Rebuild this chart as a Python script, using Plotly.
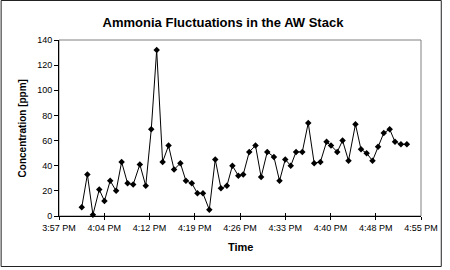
import plotly.graph_objects as go

# Sample times (clock, PM) and ammonia concentrations
times = ["16:00:39", "16:01:33", "16:02:26", "16:03:27", "16:04:17", "16:05:12", "16:06:09",
         "16:07:02", "16:07:59", "16:08:53", "16:09:57", "16:10:54", "16:11:47", "16:12:39",
         "16:13:36", "16:14:33", "16:15:26", "16:16:27", "16:17:20", "16:18:17", "16:19:11",
         "16:20:04", "16:21:05", "16:22:02", "16:22:57", "16:23:54", "16:24:47", "16:25:44",
         "16:26:31", "16:27:29", "16:28:29", "16:29:23", "16:30:22", "16:31:26", "16:32:20",
         "16:33:15", "16:34:08", "16:34:59", "16:35:59", "16:36:56", "16:37:53", "16:38:53",
         "16:39:52", "16:40:35", "16:41:35", "16:42:26", "16:43:23", "16:44:30", "16:45:23",
         "16:46:17", "16:47:14", "16:48:07", "16:49:02", "16:49:59", "16:50:50", "16:51:47",
         "16:52:44"]
ammonia = [7, 33, 1, 21, 12, 28, 20, 43, 26, 25, 41, 24, 69, 132, 43, 56, 37, 42, 28, 26, 18,
           18, 5, 45, 22, 24, 40, 32, 33, 51, 56, 31, 51, 47, 28, 45, 40, 51, 51, 74, 42, 43,
           59, 56, 51, 60, 44, 73, 53, 50, 44, 55, 66, 69, 59, 57, 57]

tick_times = ["15:57:00", "16:04:15", "16:11:30", "16:18:45", "16:26:00",
              "16:33:15", "16:40:30", "16:47:45", "16:55:00"]
tick_labels = ["3:57 PM", "4:04 PM", "4:12 PM", "4:19 PM", "4:26 PM",
               "4:33 PM", "4:40 PM", "4:48 PM", "4:55 PM"]

day = "2024-01-01 "
x = [day + t for t in times]
tickvals = [day + t for t in tick_times]
xrange_ = [tickvals[0], tickvals[-1]]

FONT = "Liberation Sans, Arial, sans-serif"

fig = go.Figure()
fig.add_trace(go.Scatter(
    x=x, y=ammonia, mode="lines+markers",
    line=dict(color="black", width=1),
    marker=dict(symbol="diamond", size=5, color="black"),
    showlegend=False, cliponaxis=False,
))

# plot area pixel box: left 59, right 425, top 40, bottom 216
L, R, T, B = 59, 425, 40, 216
W, H = 450, 270
def px(v):
    return (v - L) / (R - L)
def py(v):
    return (B - v) / (B - T)

fig.update_layout(
    width=W, height=H,
    margin=dict(l=L, r=W - R, t=T, b=H - B),
    paper_bgcolor="white", plot_bgcolor="white",
    font=dict(family=FONT, color="black", size=9),
    title=dict(text="<b>Ammonia Fluctuations in the AW Stack</b>",
               x=223 / W, xanchor="center", y=1 - 22 / H, yanchor="middle",
               font=dict(size=13, family=FONT, color="black")),
    xaxis=dict(type="date", range=xrange_, tickmode="array", tickvals=tickvals,
               ticktext=tick_labels, showgrid=False, zeroline=False,
               showline=True, linecolor="black", linewidth=1,
               ticks="outside", ticklen=3, tickcolor="black",
               tickfont=dict(size=9, family=FONT)),
    xaxis2=dict(type="date", range=xrange_, tickmode="array", tickvals=tickvals,
                overlaying="x", anchor="y", side="bottom", showticklabels=False,
                showgrid=False, zeroline=False, showline=False,
                ticks="inside", ticklen=3, tickcolor="black"),
    yaxis=dict(range=[0, 140], dtick=20, showgrid=False, zeroline=False,
               showline=True, linecolor="black", linewidth=1,
               ticks="outside", ticklen=4, tickcolor="black",
               tickfont=dict(size=9, family=FONT)),
    shapes=[
        dict(type="rect", xref="paper", yref="paper", x0=0, x1=1, y0=0, y1=1,
             line=dict(color="#808080", width=1), layer="below"),
        dict(type="rect", xref="paper", yref="paper",
             x0=px(0.5), x1=px(445.5), y0=py(266.5), y1=py(0.5),
             line=dict(color="#222222", width=1)),
    ],
    annotations=[
        dict(text="<b>Concentration [ppm]</b>", xref="paper", yref="paper",
             x=px(22), y=0.5, xanchor="center", yanchor="middle",
             textangle=-90, showarrow=False,
             font=dict(size=10, family=FONT)),
        dict(text="<b>Time</b>", xref="paper", yref="paper",
             x=0.5, y=py(247), xanchor="center", yanchor="middle", showarrow=False,
             font=dict(size=11, family=FONT)),
    ],
)

# dummy trace to make xaxis2 render
fig.add_trace(go.Scatter(x=[xrange_[0]], y=[None], xaxis="x2", yaxis="y",
                         showlegend=False, hoverinfo="skip"))

fig.write_html("out.html")
